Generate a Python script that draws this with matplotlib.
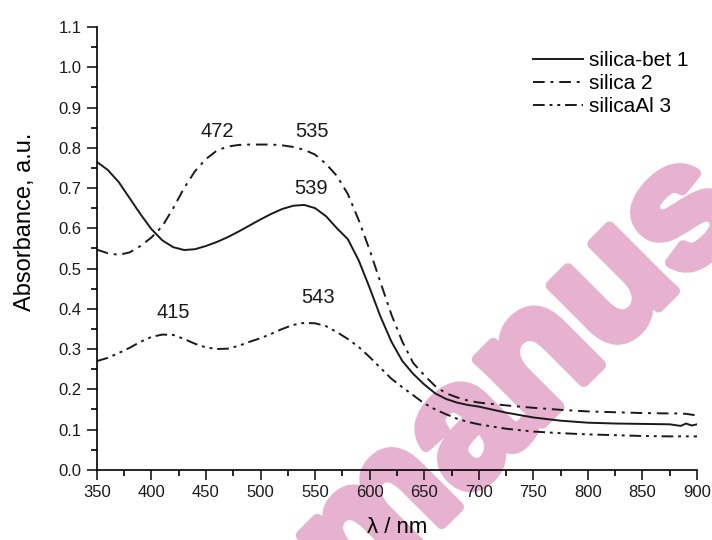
import matplotlib
matplotlib.use('Agg')
import matplotlib.pyplot as plt
import matplotlib.patheffects as pe
from matplotlib.ticker import MultipleLocator

plt.rcParams['font.family'] = ['Liberation Sans', 'DejaVu Sans']
plt.rcParams['font.size'] = 12

# wavelength grid (nm)
wl = [350, 360, 370, 380, 390, 400, 410, 420, 430, 440, 450, 460, 470, 480,
      490, 500, 510, 520, 530, 540, 550, 560, 570, 580, 590, 600, 610, 620,
      630, 640, 650, 660, 670, 680, 690, 700, 725, 750, 775, 800, 825, 850,
      875, 885, 890, 895, 900]

# silica-bet 1
bet1 = [0.765, 0.745, 0.715, 0.675, 0.635, 0.598, 0.570, 0.553, 0.546, 0.548,
        0.556, 0.566, 0.578, 0.592, 0.607, 0.622, 0.636, 0.648, 0.656, 0.658,
        0.650, 0.630, 0.600, 0.573, 0.520, 0.452, 0.380, 0.318, 0.270, 0.238,
        0.212, 0.190, 0.176, 0.167, 0.161, 0.157, 0.142, 0.130, 0.122, 0.117,
        0.115, 0.114, 0.113, 0.109, 0.115, 0.110, 0.113]

# silica 2
si2 = [0.547, 0.538, 0.534, 0.540, 0.556, 0.577, 0.605, 0.650, 0.700, 0.742,
       0.772, 0.793, 0.803, 0.807, 0.808, 0.808, 0.808, 0.806, 0.802, 0.795,
       0.783, 0.760, 0.730, 0.685, 0.620, 0.546, 0.465, 0.385, 0.318, 0.265,
       0.235, 0.208, 0.190, 0.180, 0.172, 0.167, 0.160, 0.154, 0.149, 0.145,
       0.143, 0.141, 0.140, 0.140, 0.139, 0.137, 0.135]

# silicaAl 3
al3 = [0.270, 0.278, 0.290, 0.303, 0.318, 0.330, 0.336, 0.335, 0.325, 0.313,
       0.304, 0.300, 0.301, 0.308, 0.318, 0.327, 0.338, 0.350, 0.360, 0.365,
       0.364, 0.357, 0.342, 0.325, 0.305, 0.280, 0.253, 0.226, 0.205, 0.185,
       0.165, 0.150, 0.138, 0.127, 0.119, 0.113, 0.102, 0.095, 0.091, 0.088,
       0.086, 0.084, 0.083, 0.083, 0.083, 0.083, 0.083]

# peak labels: text, x, y
peaks = [('472', 460, 0.84), ('535', 547, 0.84), ('539', 546, 0.70),
         ('415', 420, 0.39), ('543', 553, 0.427)]

fig = plt.figure(figsize=(7.12, 5.4), dpi=100)
ax = fig.add_axes([0.136, 0.13, 0.843, 0.82])
ax.patch.set_alpha(0)

# watermark behind everything
wm_col = '#e6b2d0'
fig.text(0.778, 0.238, 'manus', rotation=45, rotation_mode='anchor',
         fontsize=124, fontweight='bold', color=wm_col, ha='center',
         va='baseline', zorder=-10, family='Liberation Sans',
         path_effects=[pe.withStroke(linewidth=8, foreground=wm_col)])

ax.plot(wl, bet1, color='#1a1a1a', lw=1.4, ls='-', label='silica-bet 1')
ax.plot(wl, si2, color='#1a1a1a', lw=1.4, ls=(0, (6, 3, 1.5, 3)), label='silica 2')
ax.plot(wl, al3, color='#1a1a1a', lw=1.4, ls=(0, (6, 2.5, 1.5, 2.5, 1.5, 2.5)),
        label='silicaAl 3')

for txt, x, y in peaks:
    ax.text(x, y, txt, ha='center', va='center', fontsize=14.5, color='#1a1a1a')

ax.set_xlim(350, 900)
ax.set_ylim(0, 1.1)
ax.xaxis.set_major_locator(MultipleLocator(50))
ax.xaxis.set_minor_locator(MultipleLocator(25))
ax.yaxis.set_major_locator(MultipleLocator(0.1))
ax.yaxis.set_minor_locator(MultipleLocator(0.05))
ax.tick_params(which='major', direction='out', length=7, width=1.2, pad=4,
               labelsize=12, colors='#1a1a1a')
ax.tick_params(which='minor', direction='out', length=4, width=1.2)
ax.spines['top'].set_visible(False)
ax.spines['right'].set_visible(False)
for s in ('left', 'bottom'):
    ax.spines[s].set_linewidth(1.2)

ax.set_xlabel('λ / nm', fontsize=16, labelpad=12)
ax.set_ylabel('Absorbance, a.u.', fontsize=17)
ax.yaxis.set_label_coords(-0.102, 0.56)

ax.legend(loc='upper left', bbox_to_anchor=(0.734, 0.925),
          bbox_transform=fig.transFigure, frameon=False, handlelength=2.4,
          handletextpad=0.3, labelspacing=0.2, fontsize=15, borderpad=0)

fig.savefig('out.png', dpi=100)
